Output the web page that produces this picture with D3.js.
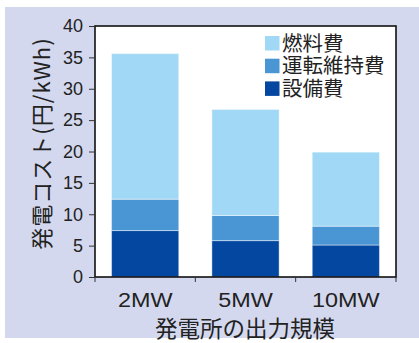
<!DOCTYPE html>
<html>
<head>
<meta charset="utf-8">
<script src="https://cdn.jsdelivr.net/npm/d3@7"></script>
<style>
  body { margin: 0; background: #fff; }
  text { font-family: "Liberation Sans", Arial, sans-serif; fill: #222; }
  .jp { font-family: "Noto Sans CJK JP", sans-serif; }
</style>
</head>
<body>
<svg width="419" height="343"></svg>
<script>
var categories = ["2MW", "5MW", "10MW"]
var seriesNames = ["設備費", "運転維持費", "燃料費"]
var capital = [7.4, 5.8, 5.1]
var operation = [5.0, 4.0, 3.0]
var fuel = [23.2, 16.9, 11.8]
var yTicks = [0, 5, 10, 15, 20, 25, 30, 35, 40]
var colors = ["#0447a0", "#4a95d3", "#a1d8f5"]

var svg = d3.select("svg")

// lavender panel
svg.append("rect")
  .attr("x", 5).attr("y", 7)
  .attr("width", 414).attr("height", 331)
  .attr("fill", "#d3d8ee")

var plotLeft = 95, plotTop = 26, plotRight = 396, plotBottom = 277

var x = d3.scaleBand().domain(categories).range([plotLeft, plotRight]).paddingInner(0).paddingOuter(0)
var y = d3.scaleLinear().domain([0, 40]).range([plotBottom, plotTop])

svg.append("rect")
  .attr("x", plotLeft).attr("y", plotTop)
  .attr("width", plotRight - plotLeft).attr("height", plotBottom - plotTop)
  .attr("fill", "#fff")

var rows = categories.map(function (c, i) {
  return { cat: c, 設備費: capital[i], 運転維持費: operation[i], 燃料費: fuel[i] }
})
var stack = d3.stack().keys(seriesNames)(rows)

var barW = x.bandwidth() * 0.67
stack.forEach(function (layer, k) {
  svg.append("g").selectAll("rect")
    .data(layer)
    .enter().append("rect")
      .attr("x", function (d) { return x(d.data.cat) + (x.bandwidth() - barW) / 2 })
      .attr("y", function (d) { return y(d[1]) })
      .attr("width", barW)
      .attr("height", function (d) { return y(d[0]) - y(d[1]) })
      .attr("fill", colors[k])
      .attr("stroke", "#ffffff")
      .attr("stroke-opacity", 0.45)
      .attr("stroke-width", 1)
})

// frame
svg.append("rect")
  .attr("x", plotLeft).attr("y", plotTop)
  .attr("width", plotRight - plotLeft).attr("height", plotBottom - plotTop)
  .attr("fill", "none").attr("stroke", "#111").attr("stroke-width", 1.6)

// y axis
var yAxis = svg.append("g")
  .attr("transform", "translate(" + plotLeft + ",0)")
  .call(d3.axisLeft(y).tickValues(yTicks).tickSize(6).tickPadding(6))
yAxis.select(".domain").remove()
yAxis.selectAll("line").attr("stroke", "#333")
yAxis.selectAll("text").attr("font-size", 18).attr("fill", "#222")
  .style("font-family", "'Liberation Sans', Arial, sans-serif")

// x axis: ticks at band boundaries
var xAxis = svg.append("g")
  .attr("transform", "translate(0," + plotBottom + ")")
xAxis.selectAll("line")
  .data([plotLeft, x("5MW"), x("10MW"), plotRight])
  .enter().append("line")
    .attr("x1", function (d) { return d }).attr("x2", function (d) { return d })
    .attr("y1", 0).attr("y2", 5)
    .attr("stroke", "#333")
xAxis.selectAll("text")
  .data(categories)
  .enter().append("text")
    .attr("transform", function (d) {
      return "translate(" + (x(d) + x.bandwidth() / 2) + ",30) scale(1.2,1)"
    })
    .attr("text-anchor", "middle")
    .attr("font-size", 19.5)
    .text(function (d) { return d })

// axis titles
svg.append("text")
  .attr("class", "jp")
  .attr("x", 245).attr("y", 337)
  .attr("text-anchor", "middle")
  .attr("font-size", 22.5)
  .text("発電所の出力規模")

svg.append("text")
  .attr("class", "jp")
  .attr("transform", "translate(50,143.5) rotate(-90)")
  .attr("text-anchor", "middle")
  .attr("font-size", 22)
  .attr("letter-spacing", 1)
  .text("発電コスト(円/kWh)")

// legend
var legendItems = ["燃料費", "運転維持費", "設備費"]
var legendColors = [colors[2], colors[1], colors[0]]
var legend = svg.append("g")
legendItems.forEach(function (name, i) {
  var ly = 36 + i * 22.7
  legend.append("rect")
    .attr("x", 265).attr("y", ly)
    .attr("width", 14.5).attr("height", 14.5)
    .attr("fill", legendColors[i])
  legend.append("text")
    .attr("class", "jp")
    .attr("x", 282).attr("y", ly + 14.5)
    .attr("font-size", 20.5)
    .text(name)
})
</script>
</body>
</html>
